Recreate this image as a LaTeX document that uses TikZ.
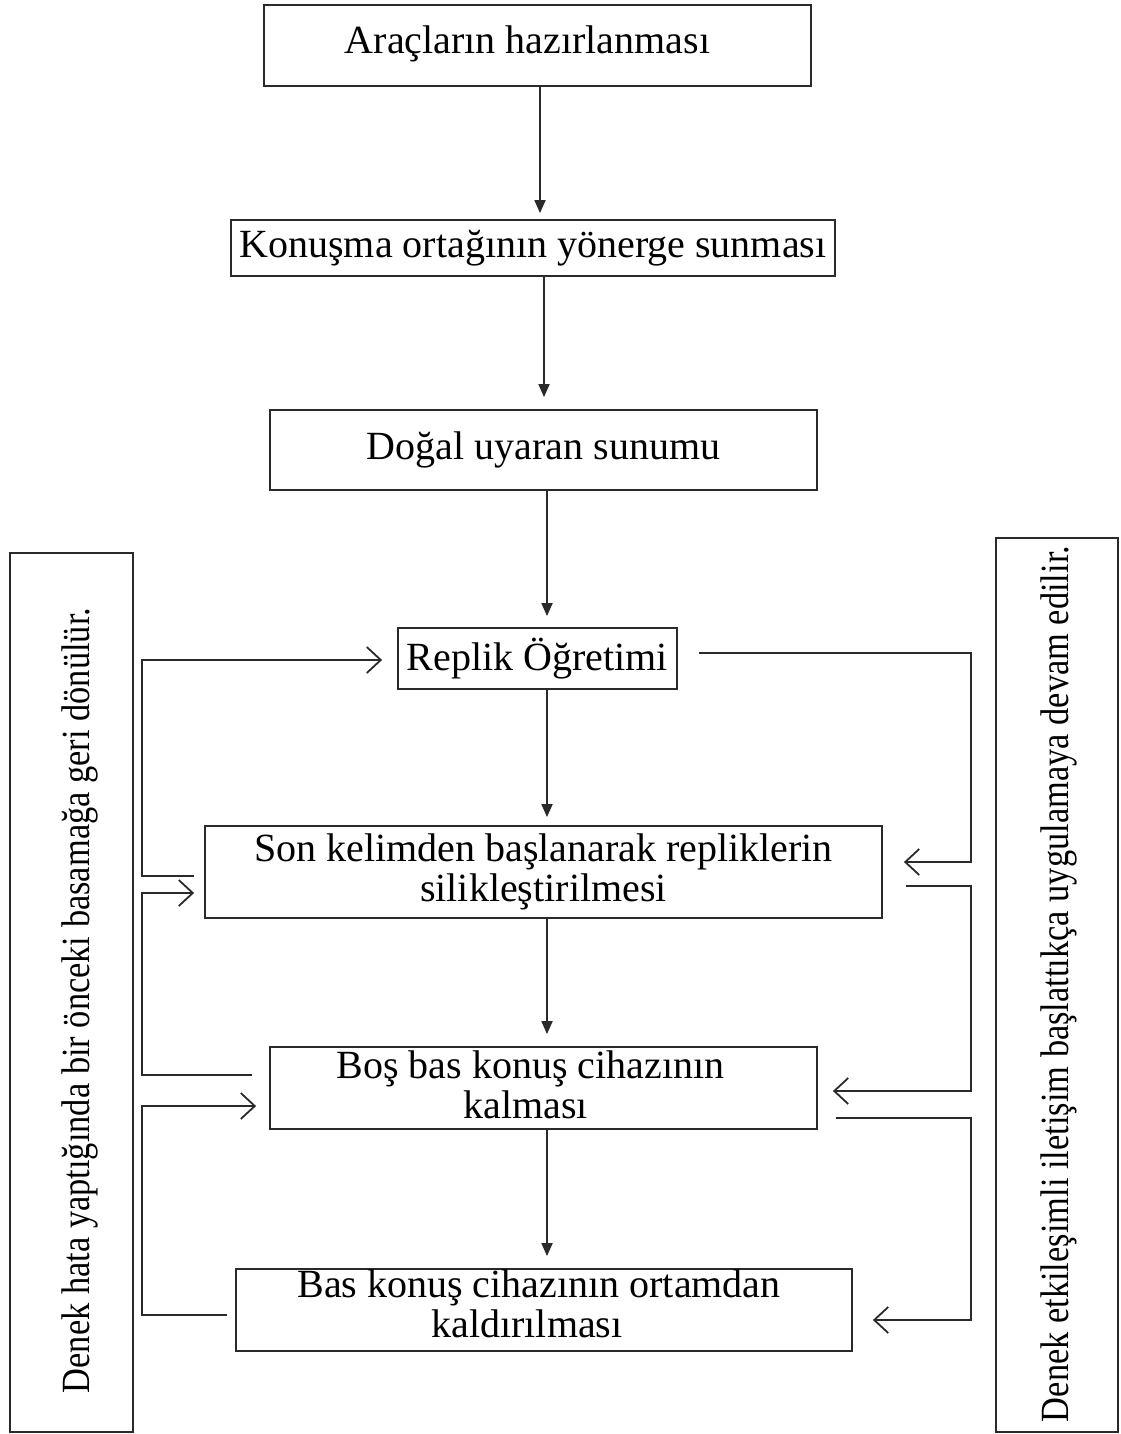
\documentclass[tikz,border=0pt]{standalone}
\usepackage{fontspec}
\setmainfont{Liberation Serif}
\usetikzlibrary{arrows.meta,calc}
\definecolor{ln}{HTML}{2A2A2A}
\tikzset{
  box/.style={draw=ln,line width=1.8pt,inner sep=0pt,align=center,
    font=\fontsize{40}{40}\selectfont},
  txt/.style={inner sep=0pt,align=center,font=\fontsize{40}{40}\selectfont},
  down/.style={draw=ln,line width=1.8pt,-{Triangle[length=13pt,width=11pt]}},
  fb/.style={draw=ln,line width=1.8pt,-{Straight Barb[length=14pt,width=26pt,line width=1.8pt]}},
  side/.style={draw=ln,line width=1.8pt,inner sep=0pt}
}
\begin{document}
\begin{tikzpicture}[x=1pt,y=-1pt]
\useasboundingbox (0,0) rectangle (1120,1434);
% main boxes
\node[box,minimum width=547pt,minimum height=81pt] (b1) at (537.5,45.5) {};
\node[txt] at ($(b1)+(-10,-2)$) {Araçların hazırlanması};
\node[box,minimum width=604pt,minimum height=56pt] (b2) at (533,248) {Konuşma ortağının yönerge sunması};
\node[box,minimum width=547pt,minimum height=80pt] (b3) at (543.5,450) {Doğal uyaran sunumu};
\node[box,minimum width=279pt,minimum height=61pt] (b4) at (537.5,658.5) {Replik Öğretimi};
\node[box,minimum width=677pt,minimum height=92pt] (b5) at (543.5,872) {Son kelimden başlanarak repliklerin\\silikleştirilmesi};
\node[box,minimum width=547pt,minimum height=82pt] (b6) at (543.5,1088) {};
\node[txt] at ($(b6)+(-13,-3)$) {Boş bas konuş cihazının\\\hspace*{-10pt}kalması};
\node[box,minimum width=616pt,minimum height=82pt] (b7) at (544,1310) {};
\node[txt] at ($(b7)+(-5,-6)$) {Bas konuş cihazının ortamdan\\\hspace*{-24pt}kaldırılması};
% side boxes
\node[side,minimum width=123pt,minimum height=879pt] (sl) at (71.5,992.5) {};
\node[txt,rotate=90] at ($(sl)+(8,8)$) {\scalebox{0.86}[1]{Denek hata yaptığında bir önceki basamağa geri dönülür.}};
\node[side,minimum width=122pt,minimum height=894pt] (sr) at (1057,985) {};
\node[txt,rotate=90] at ($(sr)+(2,-1)$) {\scalebox{0.86}[1]{Denek etkileşimli iletişim başlattıkça uygulamaya devam edilir.}};
% main flow arrows
\draw[down] ([xshift=2.5pt]b1.south) -- ([xshift=7pt,yshift=6pt]b2.north);
\draw[down] ([xshift=11pt]b2.south) -- ([xshift=0.5pt,yshift=12pt]b3.north);
\draw[down] ([xshift=3.5pt]b3.south) -- ([xshift=9.5pt,yshift=11pt]b4.north);
\draw[down] ([xshift=9.5pt]b4.south) -- ([xshift=3.5pt,yshift=8pt]b5.north);
\draw[down] ([xshift=3.5pt]b5.south) -- ([xshift=3.5pt,yshift=12pt]b6.north);
\draw[down] ([xshift=3.5pt]b6.south) -- ([xshift=3pt,yshift=12pt]b7.north);
% left feedback
\draw[fb] ($(b5.west)+(-10,4)$) -- ($(b5.west)+(-62,4)$) |- ($(b4.west)+(-15,1.5)$);
\draw[fb] ($(b6.west)+(-17,-13)$) -- ($(b6.west)+(-127,-13)$) |- ($(b5.west)+(-10,21)$);
\draw[fb] ($(b7.west)+(-8,5)$) -- ($(b7.west)+(-93,5)$) |- ($(b6.west)+(-13,18)$);
% right feedback
\draw[fb] ($(b4.east)+(21,-5.5)$) -- ($(b4.east)+(293,-5.5)$) |- ($(b5.east)+(21,-10)$);
\draw[fb] ($(b5.east)+(23,14)$) -- ($(b5.east)+(88,14)$) |- ($(b6.east)+(15,3)$);
\draw[fb] ($(b6.east)+(18,30)$) -- ($(b6.east)+(153,30)$) |- ($(b7.east)+(20,10)$);
\end{tikzpicture}
\end{document}
